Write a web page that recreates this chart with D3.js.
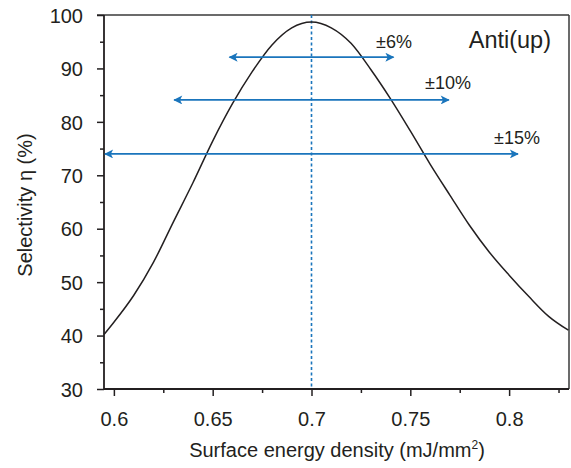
<!DOCTYPE html>
<html>
<head>
<meta charset="utf-8">
<script src="https://cdn.jsdelivr.net/npm/d3@7"></script>
<style>
  body { margin: 0; background: #fff; }
  svg text { font-family: "Liberation Sans", Arial, sans-serif; fill: #231f20; }
</style>
</head>
<body>
<svg id="chart" width="571" height="468"></svg>
<script>
// ---- data ----
const energy = [0.595, 0.600, 0.610, 0.620, 0.630, 0.640, 0.650, 0.660, 0.670, 0.680, 0.690, 0.700,
                0.710, 0.720, 0.730, 0.740, 0.750, 0.760, 0.770, 0.780, 0.790, 0.800, 0.810, 0.820, 0.830];
const selectivity = [40.2, 42.5, 47.5, 53.7, 61.2, 68.6, 76.4, 83.4, 89.4, 94.4, 97.6, 98.7,
                     97.6, 94.7, 89.8, 84.3, 78.3, 72.1, 66.3, 60.6, 55.6, 51.3, 47.3, 43.6, 41.0];
const optimum = 0.7;
const tolLabels = ["±6%", "±10%", "±15%"];
const tolLow = [0.658, 0.630, 0.595];
const tolHigh = [0.742, 0.770, 0.805];
const tolLevel = [92.1, 84.1, 74.0];
const xTicks = [0.6, 0.65, 0.7, 0.75, 0.8];
const xMinor = [0.625, 0.675, 0.725, 0.775, 0.825];
const yTicks = [30, 40, 50, 60, 70, 80, 90, 100];
const yMinor = [35, 45, 55, 65, 75, 85, 95];
const seriesLabel = "Anti(up)";

// ---- layout ----
const svg = d3.select("#chart");
const L = 104, R = 569, T = 15, B = 389;
const x = d3.scaleLinear().domain([0.595, 0.8303]).range([L, R]);
const y = d3.scaleLinear().domain([30, 100]).range([B, T]);
const blue = "#1a75bc";
const ink = "#231f20";

// frame top/right
svg.append("line").attr("x1", L - 7).attr("x2", R).attr("y1", T).attr("y2", T)
  .attr("stroke", "#3a3a3a").attr("stroke-width", 1.5);
svg.append("line").attr("x1", R).attr("x2", R).attr("y1", T).attr("y2", B)
  .attr("stroke", "#3a3a3a").attr("stroke-width", 1.5);

// axes
const xAxis = svg.append("g").attr("transform", `translate(0,${B})`)
  .call(d3.axisBottom(x).tickValues(xTicks).tickSize(7).tickFormat(d3.format("")));
svg.append("g").attr("transform", `translate(0,${B})`)
  .call(d3.axisBottom(x).tickValues(xMinor).tickSize(4).tickFormat(""))
  .call(g => g.select(".domain").remove());
const yAxis = svg.append("g").attr("transform", `translate(${L},0)`)
  .call(d3.axisLeft(y).tickValues(yTicks).tickSize(7));
svg.append("g").attr("transform", `translate(${L},0)`)
  .call(d3.axisLeft(y).tickValues(yMinor).tickSize(4).tickFormat(""))
  .call(g => g.select(".domain").remove());

svg.selectAll(".domain").attr("stroke", ink).attr("stroke-width", 1.8);
svg.selectAll(".tick line").attr("stroke", ink).attr("stroke-width", 1.5);
svg.selectAll(".tick text").attr("font-size", 20)
  .attr("font-family", "Liberation Sans, Arial, sans-serif").attr("fill", ink);
xAxis.selectAll(".tick text").attr("y", 37).attr("dy", 0);
yAxis.selectAll(".tick text").attr("x", -21).attr("dy", "0.36em");
xAxis.select(".domain").attr("d", `M${L},0H${R}`);
yAxis.select(".domain").attr("d", `M0,${B}V${T}`);

// vertical dashed line at optimum
svg.append("line").attr("x1", x(optimum)).attr("x2", x(optimum)).attr("y1", T).attr("y2", B)
  .attr("stroke", blue).attr("stroke-width", 1.6).attr("stroke-dasharray", "3,2.5");

// curve
const data = energy.map((e, i) => [e, selectivity[i]]);
svg.append("path").datum(data)
  .attr("fill", "none").attr("stroke", ink).attr("stroke-width", 1.5)
  .attr("d", d3.line().x(d => x(d[0])).y(d => y(d[1])).curve(d3.curveMonotoneX));

// arrows
const defs = svg.append("defs");
defs.append("marker").attr("id", "ah").attr("viewBox", "0 0 10 10")
  .attr("refX", 9).attr("refY", 5).attr("markerWidth", 12).attr("markerHeight", 9)
  .attr("markerUnits", "userSpaceOnUse").attr("orient", "auto-start-reverse")
  .append("path").attr("d", "M0,0 L10,5 L0,10 L2.5,5 Z").attr("fill", blue);

tolLabels.forEach((lab, i) => {
  svg.append("line")
    .attr("x1", x(tolLow[i]) + 1).attr("x2", x(tolHigh[i]) - 1)
    .attr("y1", y(tolLevel[i])).attr("y2", y(tolLevel[i]))
    .attr("stroke", blue).attr("stroke-width", 1.8)
    .attr("marker-start", "url(#ah)").attr("marker-end", "url(#ah)");
});
const labelPos = [[376, 48], [425, 89], [494, 144]];
tolLabels.forEach((lab, i) => {
  svg.append("text").attr("x", labelPos[i][0]).attr("y", labelPos[i][1])
    .attr("font-size", 18).text(lab);
});

svg.append("text").attr("x", 551).attr("y", 48).attr("text-anchor", "end")
  .attr("font-size", 23.5).text(seriesLabel);

// axis titles
svg.append("text").attr("x", 337).attr("y", 457).attr("text-anchor", "middle")
  .attr("font-size", 20)
  .html('Surface energy density (mJ/mm<tspan dy="-8" font-size="12">2</tspan><tspan dy="8">)</tspan>');
svg.append("text").attr("transform", "translate(31.5,205) rotate(-90)")
  .attr("text-anchor", "middle").attr("font-size", 20).text("Selectivity η (%)");
</script>
</body>
</html>
